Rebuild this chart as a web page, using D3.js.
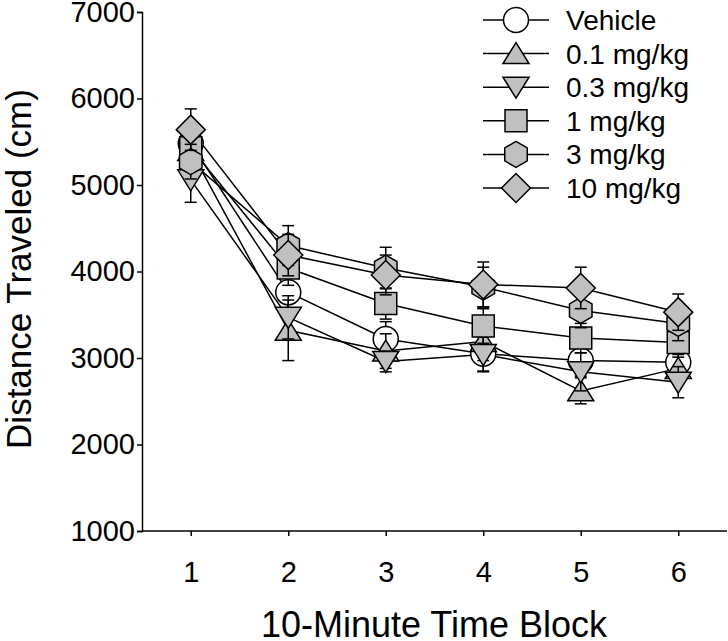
<!DOCTYPE html>
<html>
<head>
<meta charset="utf-8">
<script src="https://cdn.jsdelivr.net/npm/d3@7/dist/d3.min.js"></script>
<style>
  html, body { margin: 0; padding: 0; background: #fff; }
  svg { display: block; }
  text { font-family: "Liberation Sans", Arial, sans-serif; fill: #000; }
</style>
</head>
<body>
<svg id="chart" width="728" height="641"></svg>
<script>
// ---- data ----
const timeBlocks = [1, 2, 3, 4, 5, 6];
const seriesNames = ["Vehicle", "0.1 mg/kg", "0.3 mg/kg", "1 mg/kg", "3 mg/kg", "10 mg/kg"];
const seriesShapes = ["circle", "triangleUp", "triangleDown", "square", "hexagon", "diamond"];
const vehicle   = [5480, 3760, 3220, 3050, 2970, 2950];
const dose01    = [5400, 3320, 3080, 3190, 2620, 2880];
const dose03    = [5060, 3470, 2960, 3040, 2840, 2720];
const dose1     = [5430, 4040, 3630, 3370, 3230, 3180];
const dose3     = [5270, 4300, 4040, 3820, 3550, 3400];
const dose10    = [5640, 4190, 3960, 3850, 3810, 3530];
const vehicleErr = [250, 220, 200, 200, 180, 170];
const dose01Err  = [200, 350, 200, 220, 150, 160];
const dose03Err  = [260, 250, 120, 200, 220, 180];
const dose1Err   = [230, 200, 180, 200, 170, 170];
const dose3Err   = [200, 230, 240, 230, 200, 200];
const dose10Err  = [240, 240, 230, 260, 240, 210];
const yTicks = [1000, 2000, 3000, 4000, 5000, 6000, 7000];
const xLabel = "10-Minute Time Block";
const yLabel = "Distance Traveled (cm)";

const seriesValues = [vehicle, dose01, dose03, dose1, dose3, dose10];
const seriesErrors = [vehicleErr, dose01Err, dose03Err, dose1Err, dose3Err, dose10Err];

// ---- layout ----
const svg = d3.select("#chart");
const mLeft = 142, mRight = 727, mTop = 12, mBottom = 531;
const x = d3.scaleLinear().domain([0.5, 6.5]).range([mLeft, mRight]);
const y = d3.scaleLinear().domain([1000, 7000]).range([mBottom, mTop]);

const FILL = "#c0c0c0";

function shapePath(shape) {
  switch (shape) {
    case "circle": return d3.arc()({innerRadius: 0, outerRadius: 12.5, startAngle: 0, endAngle: 2 * Math.PI});
    case "triangleUp": return "M0,-11L13,10L-13,10Z";
    case "triangleDown": return "M0,11L13,-10L-13,-10Z";
    case "square": return "M-11,-11H11V11H-11Z";
    case "hexagon": {
      const R = 13, w = R * Math.sqrt(3) / 2;
      return `M0,${-R}L${w},${-R/2}L${w},${R/2}L0,${R}L${-w},${R/2}L${-w},${-R/2}Z`;
    }
    case "diamond": return "M0,-14.5L14.5,0L0,14.5L-14.5,0Z";
  }
}

// ---- axes ----
const yAxis = d3.axisLeft(y).tickValues(yTicks).tickSize(5).tickPadding(2).tickFormat(d3.format("d"));
const gy = svg.append("g").attr("transform", `translate(${mLeft},0)`).call(yAxis);
gy.select(".domain").attr("stroke-width", 1.5);
gy.selectAll(".tick line").attr("stroke-width", 1.5);
gy.selectAll(".tick text").attr("font-size", 29).attr("font-family", "Liberation Sans, Arial, sans-serif");

const xAxis = d3.axisBottom(x).tickValues(timeBlocks).tickSize(5).tickPadding(25).tickFormat(d3.format("d"));
const gx = svg.append("g").attr("transform", `translate(0,${mBottom})`).call(xAxis);
gx.select(".domain").attr("stroke-width", 1.5).attr("d", `M${mLeft},0H${mRight}`);
gx.selectAll(".tick line").attr("stroke-width", 1.5);
gx.selectAll(".tick text").attr("font-size", 29).attr("font-family", "Liberation Sans, Arial, sans-serif");

svg.append("text").attr("x", 434).attr("y", 637)
  .attr("text-anchor", "middle").attr("font-size", 36).text(xLabel);
svg.append("text").attr("transform", `translate(31,${269}) rotate(-90)`)
  .attr("text-anchor", "middle").attr("font-size", 35).text(yLabel);

// ---- lines ----
const line = d3.line().x((d, i) => x(timeBlocks[i])).y(d => y(d));
const plot = svg.append("g");
seriesValues.forEach(vals => {
  plot.append("path").attr("d", line(vals)).attr("fill", "none")
    .attr("stroke", "#000").attr("stroke-width", 1.5);
});

// ---- error bars + markers ----
seriesValues.forEach((vals, s) => {
  const g = plot.append("g");
  vals.forEach((v, i) => {
    const cx = x(timeBlocks[i]);
    const e = seriesErrors[s][i];
    const y1 = y(v + e), y0 = y(v - e);
    g.append("line").attr("x1", cx).attr("x2", cx).attr("y1", y1).attr("y2", y0)
      .attr("stroke", "#000").attr("stroke-width", 1.5);
    [y1, y0].forEach(yy => g.append("line").attr("x1", cx - 6).attr("x2", cx + 6)
      .attr("y1", yy).attr("y2", yy).attr("stroke", "#000").attr("stroke-width", 1.5));
  });
  vals.forEach((v, i) => {
    g.append("path").attr("d", shapePath(seriesShapes[s]))
      .attr("transform", `translate(${x(timeBlocks[i])},${y(v)})`)
      .attr("fill", s === 0 ? "#fff" : FILL).attr("stroke", "#000").attr("stroke-width", 1.5);
  });
});

// ---- legend ----
const legend = svg.append("g");
const legY = d3.scaleLinear().domain([0, 5]).range([20, 188]);
seriesNames.forEach((name, s) => {
  const yy = legY(s);
  legend.append("line").attr("x1", 483).attr("x2", 549).attr("y1", yy).attr("y2", yy)
    .attr("stroke", "#000").attr("stroke-width", 1.5);
  legend.append("path").attr("d", shapePath(seriesShapes[s]))
    .attr("transform", `translate(516,${yy})`)
    .attr("fill", s === 0 ? "#fff" : FILL).attr("stroke", "#000").attr("stroke-width", 1.5);
  legend.append("text").attr("x", 566).attr("y", yy).attr("dy", "0.36em")
    .attr("font-size", 28).text(name);
});
</script>
</body>
</html>
